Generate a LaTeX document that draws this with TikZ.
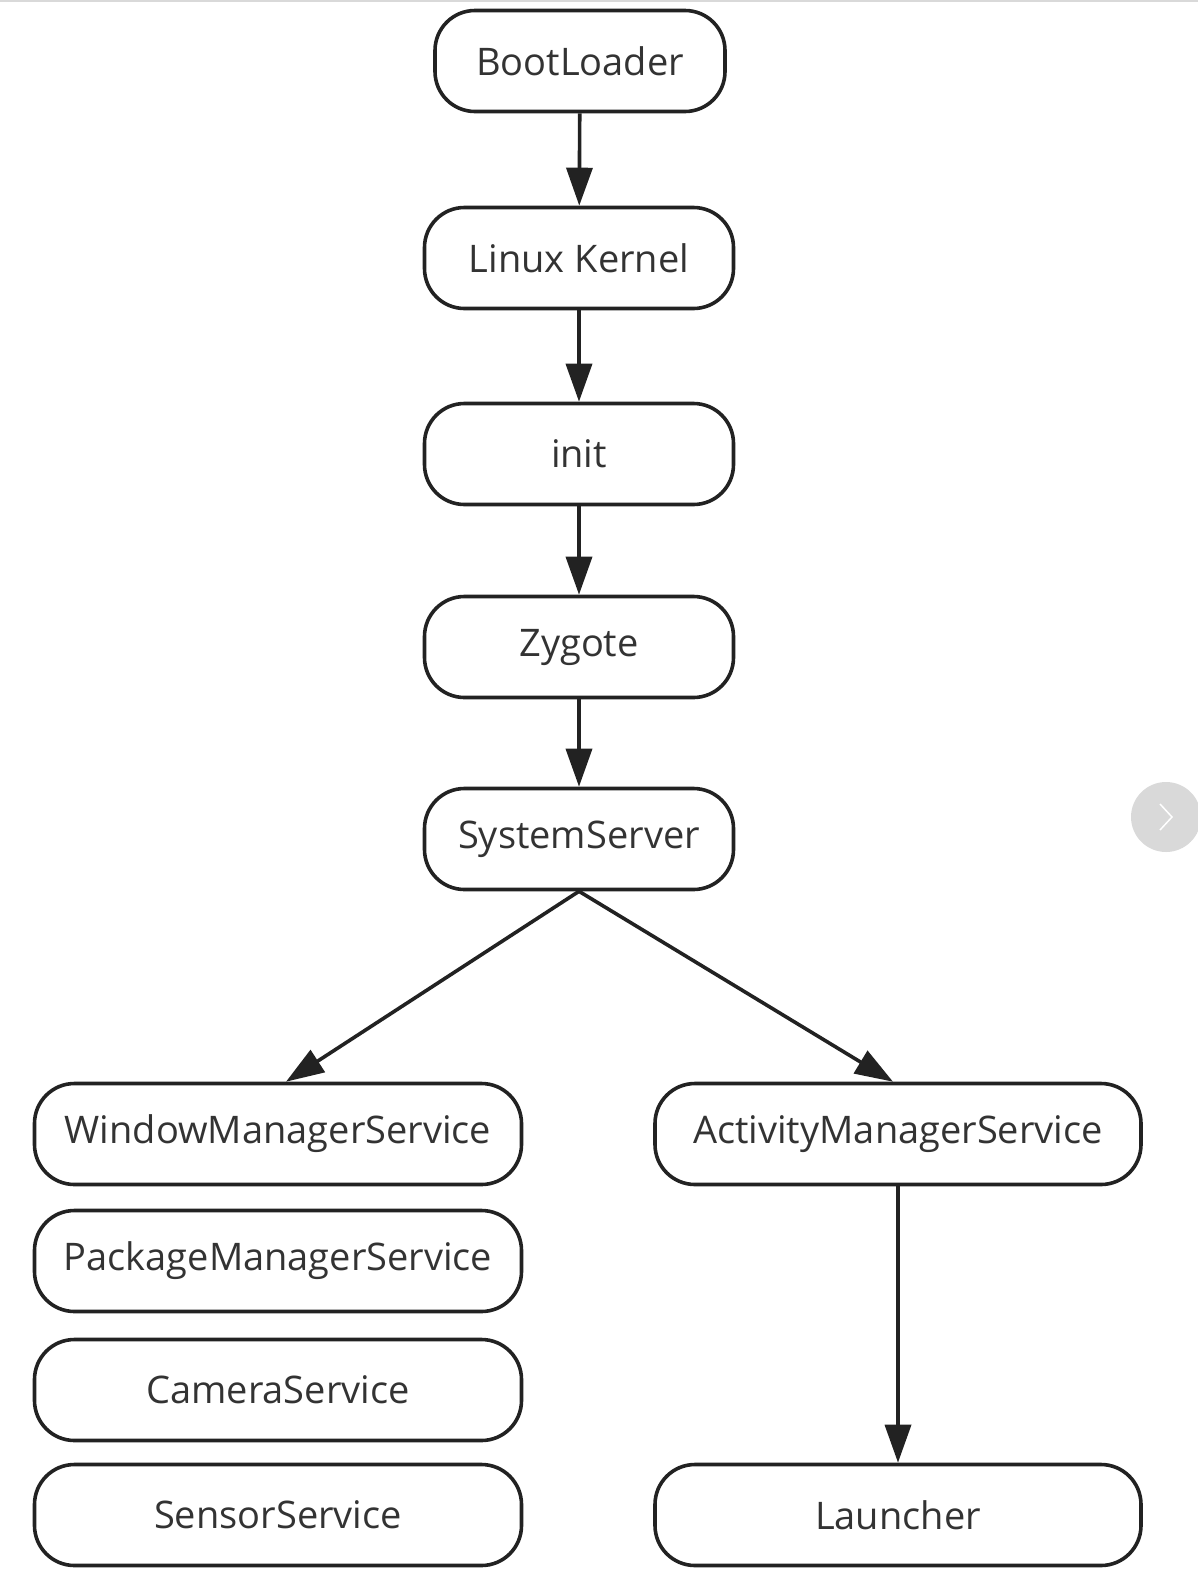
\documentclass[tikz,border=0pt]{standalone}
\usepackage{fontspec}
\setmainfont{Open Sans}
\usepackage{xcolor}
\usetikzlibrary{arrows.meta}

\definecolor{boxline}{RGB}{34,34,34}
\definecolor{boxtext}{RGB}{51,51,51}
\definecolor{navgray}{RGB}{217,217,217}

\tikzset{
	stage/.style={draw=boxline, line width=3.6pt, rounded corners=40pt, fill=white,
		minimum height=101pt, inner sep=0pt, text=boxtext, font=\fontsize{38}{42}\selectfont},
	flow/.style={draw=boxline, line width=3.6pt, -{Triangle[length=38pt,width=26pt]}},
}

\begin{document}
\begin{tikzpicture}[x=1pt,y=1pt,yscale=-1,xscale=1]
	\useasboundingbox (0,0) rectangle (1198,1591);
	%thin rule at the top of the screenshot
	\draw [color=navgray, line width=1.5pt] (0,1) -- (1198,1) ;
	
	% Boot chain
	\node [stage, minimum width=290pt] (boot) at (580,61) {BootLoader};
	\node [stage, minimum width=309pt] (kernel) at (579,258) {Linux Kernel};
	\node [stage, minimum width=309pt] (init) at (579,454) {init};
	\node [stage, minimum width=309pt] (zygote) at (579,647) {Zygote};
	\node [stage, minimum width=309pt] (sysserver) at (579,839) {SystemServer};
	
	% Services
	\node [stage, minimum width=487pt] (wms) at (278,1134) {WindowManagerService};
	\node [stage, minimum width=487pt] (pms) at (278,1261) {PackageManagerService};
	\node [stage, minimum width=487pt] (camera) at (278,1390) {CameraService};
	\node [stage, minimum width=487pt] (sensor) at (278,1515) {SensorService};
	\node [stage, minimum width=486pt] (ams) at (898,1134) {ActivityManagerService};
	\node [stage, minimum width=486pt] (launcher) at (898,1515) {Launcher};
	
	% Arrows
	\draw [flow] (boot) -- (kernel) ;
	\draw [flow] (kernel) -- (init) ;
	\draw [flow] (init) -- (zygote) ;
	\draw [flow] (zygote) -- (sysserver) ;
	\draw [flow] (sysserver.south) -- ([xshift=8pt]wms.north) ;
	\draw [flow] (sysserver.south) -- ([xshift=-5pt]ams.north) ;
	\draw [flow] (ams) -- (launcher) ;
	
	%next button of the page viewer
	\node [circle, fill=navgray, minimum size=70pt, inner sep=0pt] (next) at (1166,817) {};
	\draw [white, line width=1.5pt] ([xshift=-6pt,yshift=-13pt]next.center) -- ([xshift=6pt]next.center) -- ([xshift=-6pt,yshift=13pt]next.center) ;
\end{tikzpicture}
\end{document}
